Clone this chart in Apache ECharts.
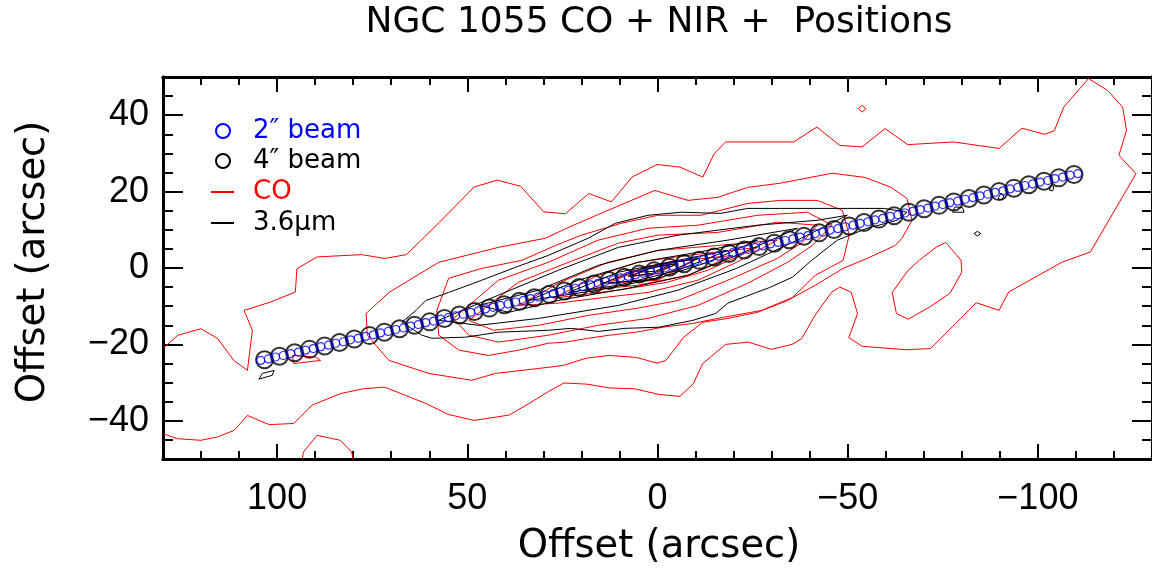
<!DOCTYPE html>
<html>
<head>
<meta charset="utf-8">
<script src="https://cdn.jsdelivr.net/npm/echarts@6/dist/echarts.min.js"></script>
<style>
  html, body { margin: 0; padding: 0; background: #fff; }
  #main { width: 1152px; height: 569px; }
</style>
</head>
<body>
<div id="main"></div>
<script>
// tick values
const xMajorTicks = [-100, -50, 0, 50, 100];
const xMinorTicks = [-120, -110, -100, -90, -80, -70, -60, -50, -40, -30, -20, -10, 0, 10, 20, 30, 40, 50, 60, 70, 80, 90, 100, 110, 120];
const yMajorTicks = [-40, -20, 0, 20, 40];
const yMinorTicks = [-45, -40, -35, -30, -25, -20, -15, -10, -5, 0, 5, 10, 15, 20, 25, 30, 35, 40, 45];

// 4" beam positions
const beam4X = [103.3, 99.4, 95.4, 91.5, 87.5, 83.6, 79.7, 75.7, 71.8, 67.8, 63.9, 59.9, 56.0, 52.1, 48.1, 44.2, 40.3, 36.3, 32.4, 28.4, 24.5, 20.6, 16.6, 12.7, 8.7, 4.8, 0.9, -3.1, -7.0, -11.0, -14.9, -18.8, -22.8, -26.7, -30.7, -34.6, -38.5, -42.5, -46.4, -50.4, -54.3, -58.2, -62.2, -66.1, -70.1, -74.0, -77.9, -81.9, -85.8, -89.8, -93.7, -97.6, -101.6, -105.5, -109.5];
const beam4Y = [-24.0, -23.1, -22.2, -21.3, -20.4, -19.5, -18.6, -17.7, -16.8, -15.9, -15.0, -14.1, -13.2, -12.3, -11.4, -10.5, -9.6, -8.7, -7.8, -6.9, -6.0, -5.1, -4.2, -3.3, -2.4, -1.6, -0.7, 0.2, 1.1, 2.0, 2.9, 3.8, 4.7, 5.6, 6.5, 7.4, 8.3, 9.2, 10.1, 11.0, 11.9, 12.8, 13.7, 14.6, 15.5, 16.4, 17.3, 18.2, 19.1, 20.0, 20.9, 21.8, 22.7, 23.6, 24.5];

// 2" beam positions
const beam2X = [104.3, 102.3, 100.4, 98.4, 96.4, 94.4, 92.5, 90.5, 88.5, 86.5, 84.6, 82.6, 80.7, 78.7, 76.7, 74.7, 72.8, 70.8, 68.8, 66.8, 64.9, 62.9, 60.9, 58.9, 57.0, 55.0, 53.1, 51.1, 49.1, 47.1, 45.2, 43.2, 41.3, 39.3, 37.3, 35.3, 33.4, 31.4, 29.4, 27.4, 25.5, 23.5, 21.6, 19.6, 17.6, 15.6, 13.7, 11.7, 9.7, 7.7, 5.8, 3.8, 1.9, -0.1, -2.1, -4.1, -6.0, -8.0, -10.0, -12.0, -13.9, -15.9, -17.8, -19.8, -21.8, -23.8, -25.7, -27.7, -29.7, -31.7, -33.6, -35.6, -37.5, -39.5, -41.5, -43.5, -45.4, -47.4, -49.4, -51.4, -53.3, -55.3, -57.2, -59.2, -61.2, -63.2, -65.1, -67.1, -69.1, -71.1, -73.0, -75.0, -76.9, -78.9, -80.9, -82.9, -84.8, -86.8, -88.8, -90.8, -92.7, -94.7, -96.6, -98.6, -100.6, -102.6, -104.5, -106.5, -108.5, -110.5];
const beam2Y = [-24.2, -23.8, -23.3, -22.9, -22.4, -22.0, -21.5, -21.1, -20.6, -20.2, -19.7, -19.3, -18.8, -18.4, -17.9, -17.5, -17.0, -16.6, -16.1, -15.7, -15.2, -14.8, -14.3, -13.9, -13.4, -13.0, -12.5, -12.1, -11.6, -11.2, -10.7, -10.3, -9.8, -9.4, -8.9, -8.5, -8.0, -7.6, -7.1, -6.7, -6.2, -5.8, -5.3, -4.9, -4.4, -4.0, -3.5, -3.1, -2.6, -2.2, -1.8, -1.4, -0.9, -0.5, 0.0, 0.4, 0.9, 1.3, 1.8, 2.2, 2.7, 3.1, 3.6, 4.0, 4.5, 4.9, 5.4, 5.8, 6.3, 6.7, 7.2, 7.6, 8.1, 8.5, 9.0, 9.4, 9.9, 10.3, 10.8, 11.2, 11.7, 12.1, 12.6, 13.0, 13.5, 13.9, 14.4, 14.8, 15.3, 15.7, 16.2, 16.6, 17.1, 17.5, 18.0, 18.4, 18.9, 19.3, 19.8, 20.2, 20.7, 21.1, 21.6, 22.0, 22.5, 22.9, 23.4, 23.8, 24.3, 24.7];

// CO contours [x, y] (arcsec)
const coOuter = [[129.7,-20.8],[126.1,-17.6],[120.0,-15.9],[115.6,-18.5],[111.4,-24.2],[107.8,-26.8],[106.5,-16.3],[108.7,-11.1],[101.7,-8.9],[95.2,-6.3],[94.8,-0.2],[89.5,2.9],[77.8,3.5],[71.7,2.5],[66.0,3.5],[57.3,12.0],[48.2,21.2],[42.1,23.0],[36.0,21.4],[29.9,14.7],[24.2,14.2],[18.1,19.5],[12.1,17.3],[6.7,23.8],[0.1,27.1],[-5.9,26.4],[-11.9,23.8],[-14.9,29.9],[-17.9,33.0],[-35.8,33.0],[-41.9,36.9],[-47.9,32.1],[-53.8,31.7],[-59.8,36.5],[-65.8,32.3],[-77.8,33.0],[-89.8,31.3],[-95.8,36.6],[-101.8,35.0],[-104.3,35.9],[-106.8,42.1],[-113.3,49.6],[-118.3,46.5],[-122.3,42.1],[-123.3,36.0],[-121.3,29.5],[-125.8,24.7],[-113.8,4.2],[-106.3,1.5],[-92.3,-6.3],[-89.8,-11.1],[-83.8,-9.1],[-78.3,-14.6],[-71.8,-21.1],[-65.3,-21.4],[-53.8,-20.5],[-50.3,-18.2],[-52.6,-11.9],[-50.9,-6.3],[-47.9,-5.0],[-45.8,-6.3],[-41.4,-12.4],[-37.9,-18.5],[-35.4,-20.0],[-29.9,-21.3],[-23.9,-19.4],[-17.9,-20.0],[-11.9,-25.0],[-9.4,-30.3],[-5.9,-33.6],[-0.4,-33.1],[6.1,-31.6],[12.6,-31.4],[18.6,-30.4],[24.6,-30.1],[28.6,-32.3],[33.8,-35.5],[39.0,-38.5],[48.2,-39.9],[55.1,-38.3],[60.8,-35.5],[71.7,-31.2],[77.3,-31.6],[83.4,-32.9],[90.8,-35.9],[95.6,-40.7],[102.1,-41.0],[107.8,-38.6],[111.3,-42.5],[115.6,-44.2],[120.0,-45.1],[126.1,-44.7],[129.7,-43.5]];
const coHole = [[-75.8,6.7],[-79.8,2.0],[-80.0,-1.1],[-76.9,-6.6],[-71.4,-10.3],[-65.9,-13.4],[-62.8,-11.9],[-61.7,-6.4],[-65.9,-0.6],[-68.8,2.0],[-73.2,5.4],[-75.8,6.7]];
const coDiamond = [[-52.8,41.7],[-53.8,42.6],[-54.8,41.7],[-53.8,40.8],[-52.8,41.7]];
const coArc = [[93.4,-50.1],[93.1,-48.2],[89.5,-43.8],[83.4,-45.1],[80.4,-48.2],[80.0,-50.1]];
const coIsland = [[96.0,-22.9],[95.6,-25.0],[88.6,-24.2],[89.9,-23.3],[96.0,-22.9]];
const coLevel2 = [[76.6,-11.9],[70.6,-6.4],[57.5,1.5],[41.8,5.4],[29.5,7.8],[22.1,11.2],[13.0,15.1],[0.7,20.3],[-8.0,17.7],[-15.8,18.5],[-23.7,21.1],[-32.3,22.2],[-45.9,24.8],[-54.6,23.7],[-61.4,21.1],[-65.6,18.2],[-66.9,12.5],[-64.3,7.8],[-62.5,5.9],[-55.1,2.5],[-48.8,-0.1],[-41.5,-4.5],[-34.2,-8.5],[-26.3,-11.6],[-18.5,-13.2],[-11.9,-14.2],[-6.9,-18.1],[-2.2,-24.2],[0.1,-24.9],[5.6,-23.4],[12.7,-22.9],[18.7,-23.6],[24.8,-25.5],[28.7,-26.0],[42.6,-27.6],[48.8,-29.4],[60.1,-27.6],[70.6,-24.2],[76.3,-17.6],[76.6,-11.9]];
const coLevel3 = [[57.5,-17.6],[58.0,-11.1],[54.9,-2.7],[46.2,-0.1],[35.7,2.0],[26.8,5.9],[20.0,8.6],[9.6,11.7],[-0.1,13.8],[-11.4,13.8],[-23.7,16.9],[-32.3,17.7],[-42.0,17.7],[-48.6,15.1],[-50.4,8.6],[-48.8,2.0],[-41.5,-1.9],[-35.5,-7.7],[-27.4,-11.1],[-17.4,-12.9],[-9.3,-14.5],[-1.4,-15.5],[5.6,-16.8],[12.7,-17.6],[18.2,-18.4],[24.2,-19.4],[28.7,-19.7],[36.5,-21.5],[44.4,-22.9],[52.2,-21.5],[57.5,-17.6]];
const coLevel3b = [[53.6,-13.2],[41.8,-3.2],[28.7,1.5],[15.6,7.3],[2.5,10.4],[-10.6,11.2],[-26.3,13.8],[-39.4,14.6],[-45.9,11.2],[-40.7,5.9],[-34.2,1.5],[-23.7,-4.0],[-10.6,-9.8],[2.5,-13.2],[15.6,-15.0],[28.7,-17.6],[41.8,-19.4],[49.6,-17.6],[53.6,-13.2]];
const coLevel4 = [[49.6,-13.7],[36.5,-3.7],[23.4,1.5],[10.3,6.5],[-0.1,8.6],[-15.8,9.3],[-31.5,12.0],[-42.0,11.2],[-38.1,6.7],[-31.5,2.5],[-18.5,-3.2],[-5.4,-8.5],[5.1,-10.5],[18.2,-12.4],[31.3,-15.0],[43.1,-16.3],[49.6,-13.7]];
const coLevel5 = [[36.5,-9.8],[26.1,-4.0],[13.0,1.5],[-0.1,4.6],[-15.8,5.9],[-31.5,7.3],[-20.8,1.5],[-10.6,-3.2],[2.5,-6.4],[15.6,-7.9],[26.1,-9.2],[36.5,-9.8]];
const coLevel6 = [[27.4,-7.9],[15.6,-1.9],[5.1,1.5],[-8.0,3.3],[-26.3,5.4],[-13.2,-0.6],[-2.7,-3.7],[10.3,-5.8],[27.4,-7.9]];
const coLevel7 = [[18.2,-5.8],[7.7,-1.1],[-2.7,1.5],[-19.8,3.3],[-8.0,-1.9],[5.1,-4.5],[18.2,-5.8]];
const coLevel8 = [[13.0,-4.0],[2.5,0.4],[-10.6,2.5],[-0.1,-3.2],[13.0,-4.0]];
const coLevel9 = [[6.9,-2.2],[1.2,0.4],[-5.4,1.2],[0.7,-1.6],[6.9,-2.2]];

// 3.6um contours
const nirLevel1 = [[67.2,-14.2],[63.5,-11.1],[60.9,-8.5],[54.9,-6.4],[46.2,-3.2],[37.3,0.2],[28.7,3.3],[18.2,7.8],[11.1,11.7],[2.5,13.8],[-6.2,14.6],[-16.6,14.3],[-23.7,15.6],[-32.3,15.6],[-49.9,15.6],[-59.6,15.6],[-65.6,14.6],[-63.0,12.5],[-55.1,10.4],[-47.3,7.3],[-40.5,2.0],[-35.5,-2.4],[-29.5,-5.1],[-25.5,-6.6],[-18.5,-9.2],[-15.3,-11.9],[-9.3,-13.7],[-0.4,-15.5],[8.5,-15.8],[15.6,-16.6],[22.7,-15.8],[28.7,-16.3],[41.8,-16.8],[50.4,-18.1],[59.3,-18.4],[61.9,-17.6],[67.2,-14.2]];
const nirLevel2 = [[57.5,-13.7],[41.8,-7.1],[26.1,-0.6],[10.3,5.4],[-5.4,8.6],[-26.3,11.2],[-42.0,12.5],[-49.9,13.8],[-36.8,7.3],[-20.8,-0.1],[-5.4,-5.8],[10.3,-9.8],[31.3,-13.2],[47.0,-15.0],[57.5,-13.7]];
const nirLevel3 = [[47.0,-9.8],[31.3,-5.8],[15.6,0.7],[-0.1,4.6],[-18.5,7.3],[-36.8,10.4],[-20.8,3.3],[-8.0,-1.9],[7.7,-5.3],[26.1,-8.5],[39.1,-11.6],[47.0,-9.8]];
const nirLevel4 = [[33.9,-8.5],[20.8,-3.2],[5.1,1.5],[-10.6,4.1],[-26.3,7.3],[-13.2,1.5],[-0.1,-2.7],[15.6,-5.8],[33.9,-8.5]];
const nirLevel5 = [[23.4,-6.4],[10.3,-1.1],[-5.4,2.0],[-18.5,4.6],[-5.4,-0.6],[10.3,-4.5],[23.4,-6.4]];
const nirLevel6 = [[14.3,-4.0],[2.5,0.4],[-10.6,2.5],[1.2,-3.0],[14.3,-4.0]];
const nirLevel7 = [[7.7,-2.2],[1.2,0.2],[-5.4,1.2],[1.2,-1.4],[7.7,-2.2]];
const nirLevel8 = [[5.1,-1.1],[0.7,0.2],[-3.3,0.7],[0.7,-0.9],[5.1,-1.1]];
const nirBlob1 = [[104.8,-29.1],[103.9,-27.6],[100.8,-26.8],[101.3,-28.1],[104.8,-29.1]];
const nirBlob2 = [[-89.5,18.2],[-90.3,19.6],[-91.1,19.0],[-90.6,17.8],[-89.5,18.2]];
const nirBlob3 = [[-77.6,14.6],[-78.2,16.0],[-80.2,15.8],[-80.6,14.6],[-77.6,14.6]];
const nirBlob4 = [[-83.2,9.0],[-84.1,9.6],[-85.0,9.0],[-84.1,8.4],[-83.2,9.0]];
const nirBlob5 = [[-103.0,20.4],[-103.4,21.6],[-104.2,21.4],[-103.9,20.2],[-103.0,20.4]];

const coLines = [coOuter, coHole, coDiamond, coArc, coIsland, coLevel2, coLevel3, coLevel3b, coLevel4, coLevel5, coLevel6, coLevel7, coLevel8, coLevel9];
const nirLines = [nirLevel1, nirLevel2, nirLevel3, nirLevel4, nirLevel5, nirLevel6, nirLevel7, nirLevel8, nirBlob1, nirBlob2, nirBlob3, nirBlob4, nirBlob5];

const chart = echarts.init(document.getElementById('main'), null, { renderer: 'canvas' });

const GRID = { left: 163, top: 77, width: 993, height: 382 };
const AX = { color: '#000', width: 3 };
const FONT = 'Liberation Sans';
const minusFmt = v => (v < 0 ? '\u2212' + Math.abs(v) : String(v));

function xAx(pos, ticks, len, labels) {
  return {
    type: 'value', min: -130, max: 130, inverse: true, position: pos,
    axisLine: { show: true, onZero: false, lineStyle: AX },
    axisTick: { show: true, inside: true, length: len, customValues: ticks, lineStyle: { color: '#000', width: 2 } },
    axisLabel: labels ? { show: true, customValues: labels, fontSize: 36, color: '#000', fontFamily: FONT, margin: 22, formatter: minusFmt } : { show: false },
    splitLine: { show: false }
  };
}
function yAx(pos, ticks, len, labels) {
  return {
    type: 'value', min: -50, max: 50, position: pos,
    axisLine: { show: true, onZero: false, lineStyle: AX },
    axisTick: { show: true, inside: true, length: len, customValues: ticks, lineStyle: { color: '#000', width: 2 } },
    axisLabel: labels ? { show: true, customValues: labels, fontSize: 36, color: '#000', fontFamily: FONT, margin: 14, formatter: minusFmt } : { show: false },
    splitLine: { show: false }
  };
}

const xAxes = [
  xAx('bottom', xMajorTicks, 15, xMajorTicks),
  xAx('bottom', xMinorTicks, 8, null),
  xAx('top', xMajorTicks, 15, null),
  xAx('top', xMinorTicks, 8, null)
];
const yAxes = [
  yAx('left', yMajorTicks, 20, yMajorTicks),
  yAx('left', yMinorTicks, 10, null),
  yAx('right', yMajorTicks, 20, null),
  yAx('right', yMinorTicks, 10, null)
];

const series = [];
coLines.forEach(pts => series.push({
  name: 'CO', type: 'line', data: pts, showSymbol: false, symbol: 'none', smooth: false,
  lineStyle: { color: '#ff0000', width: 1 }, z: 2, silent: true
}));
nirLines.forEach(pts => series.push({
  name: '3.6\u03bcm', type: 'line', data: pts, showSymbol: false, symbol: 'none', smooth: false,
  lineStyle: { color: '#000', width: 1 }, z: 3, silent: true
}));
series.push({
  name: '4\u2033 beam', type: 'scatter', data: beam4X.map((x, i) => [x, beam4Y[i]]),
  symbol: 'circle', symbolSize: 17,
  itemStyle: { color: 'rgba(0,0,0,0)', borderColor: '#000', borderWidth: 2 }, z: 4
});
series.push({
  name: '2\u2033 beam', type: 'scatter', data: beam2X.map((x, i) => [x, beam2Y[i]]),
  symbol: 'circle', symbolSize: 8,
  itemStyle: { color: 'rgba(0,0,0,0)', borderColor: '#0000ff', borderWidth: 1.2 }, z: 5
});

const legendRows = [
  { y: 131, text: '2\u2033 beam', color: '#0000ff', kind: 'circle' },
  { y: 161, text: '4\u2033 beam', color: '#000', kind: 'circle' },
  { y: 192, text: 'CO', color: '#ff0000', kind: 'line' },
  { y: 223, text: '3.6\u03bcm', color: '#000', kind: 'line' }
];
const graphics = [];
legendRows.forEach(r => {
  if (r.kind === 'circle') {
    graphics.push({ type: 'circle', shape: { cx: 223, cy: r.y, r: 7 }, style: { fill: 'none', stroke: r.color, lineWidth: 2 } });
  } else {
    graphics.push({ type: 'line', shape: { x1: 211, y1: r.y, x2: 234, y2: r.y }, style: { stroke: r.color, lineWidth: 2 } });
  }
  graphics.push({ type: 'text', x: 253, y: r.y, style: { text: r.text, fill: r.color, font: '26px "DejaVu Sans"', textVerticalAlign: 'middle' } });
});
// titles
graphics.push({ type: 'text', x: 659, y: 23, style: { text: 'NGC 1055 CO + NIR +  Positions', fill: '#000', font: '36px "DejaVu Sans"', textAlign: 'center', textVerticalAlign: 'middle' } });
graphics.push({ type: 'text', x: 659, y: 547, style: { text: 'Offset (arcsec)', fill: '#000', font: '38.5px "DejaVu Sans"', textAlign: 'center', textVerticalAlign: 'middle' } });
graphics.push({ type: 'text', x: 34, y: 262, rotation: Math.PI / 2, style: { text: 'Offset (arcsec)', fill: '#000', font: '38.5px "DejaVu Sans"', textAlign: 'center', textVerticalAlign: 'middle' } });

chart.setOption({
  animation: false,
  backgroundColor: '#fff',
  grid: GRID,
  xAxis: xAxes,
  yAxis: yAxes,
  series: series,
  graphic: graphics
});
</script>
</body>
</html>
